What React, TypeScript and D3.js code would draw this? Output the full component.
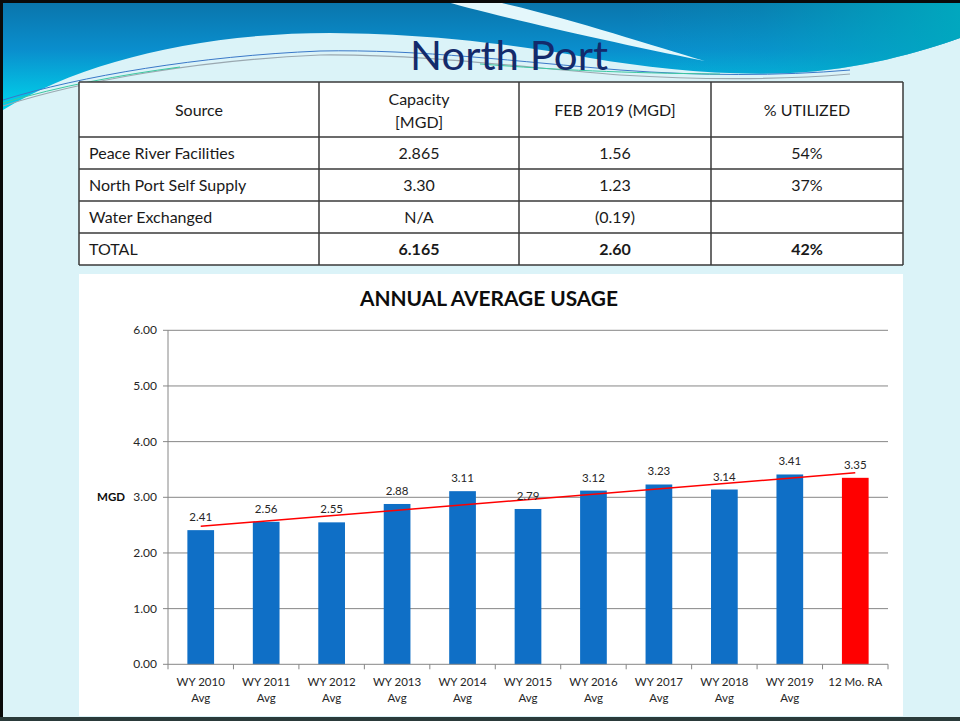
import React from "react";
import * as d3 from "d3";

const categories = [
  "WY 2010 Avg", "WY 2011 Avg", "WY 2012 Avg", "WY 2013 Avg", "WY 2014 Avg",
  "WY 2015 Avg", "WY 2016 Avg", "WY 2017 Avg", "WY 2018 Avg", "WY 2019 Avg", "12 Mo. RA",
];
const usage = [2.41, 2.56, 2.55, 2.88, 3.11, 2.79, 3.12, 3.23, 3.14, 3.41, 3.35];
const yTicks = [0, 1, 2, 3, 4, 5, 6];

const tableHeader = ["Source", "Capacity\n[MGD]", "FEB 2019 (MGD]", "% UTILIZED"];
const tableSources = ["Peace River Facilities", "North Port Self Supply", "Water Exchanged", "TOTAL"];
const tableCapacity = ["2.865", "3.30", "N/A", "6.165"];
const tableFeb = ["1.56", "1.23", "(0.19)", "2.60"];
const tableUtilized = ["54%", "37%", "", "42%"];

const FONT = "Lato, 'Open Sans', sans-serif";

export default function App() {
  const W = 960, H = 721;
  const x0 = 168, x1 = 888, yTop = 330.3, yBot = 664.3;
  const x = d3.scaleBand<string>().domain(categories).range([x0, x1]).paddingInner(0.592).paddingOuter(0.296);
  const y = d3.scaleLinear().domain([0, 6]).range([yBot, yTop]);
  const step = x.step();
  const bw = x.bandwidth();

  // linear trend line (least squares over the bar values)
  const idx = usage.map((_, i) => i);
  const mx = d3.mean(idx) as number;
  const my = d3.mean(usage) as number;
  const slope = d3.sum(idx, (i) => (i - mx) * (usage[i] - my)) / d3.sum(idx, (i) => (i - mx) ** 2);
  const trend = (i: number) => my + slope * (i - mx);
  const cx = (i: number) => (x(categories[i]) as number) + bw / 2;
  const trendLine = d3.line<number>().x((i) => cx(i)).y((i) => y(trend(i)))([0, categories.length - 1]) as string;

  const cols = [79, 319, 519, 711, 903];
  const rows = [82, 137, 169, 201, 233, 265];

  const boundaries = d3.range(categories.length + 1).map((i) => x0 + i * step);
  const swoosh = "M0,0 H960 V38 C 920,52 860,70 790,73 C 720,76 650,68 590,58 C 520,46 440,34 330,33 C 200,33 80,62 3,110 L0,110 Z";

  return (
    <svg width={W} height={H} style={{ position: "absolute", left: 0, top: 0, display: "block" }} fontFamily={FONT}>
      <defs>
        <linearGradient id="blueV" x1="0" y1="0" x2="0" y2="110" gradientUnits="userSpaceOnUse">
          <stop offset="0" stopColor="#0a74aa" />
          <stop offset="0.45" stopColor="#0a8ecd" />
          <stop offset="1" stopColor="#00d6ec" />
        </linearGradient>
        <linearGradient id="tealOv" x1="960" y1="0" x2="640" y2="70" gradientUnits="userSpaceOnUse">
          <stop offset="0" stopColor="#00aabf" stopOpacity="0.95" />
          <stop offset="0.6" stopColor="#00aabf" stopOpacity="0.2" />
          <stop offset="1" stopColor="#00aabf" stopOpacity="0" />
        </linearGradient>
      </defs>
      <rect x={0} y={0} width={W} height={H} fill="#dbf3f8" />
      <path d={swoosh} fill="url(#blueV)" />
      <path d={swoosh} fill="url(#tealOv)" />
      <path d="M440,0 C 480,12 600,40 705,61 C 650,45 560,15 488,0 Z" fill="#e4f7fb" />
      <path d="M3,100 C 80,76 200,56 320,51 C 420,49 520,62 620,70 C 700,76 780,76 850,70" fill="none" stroke="#3a78c8" strokeWidth={1} />
      <path d="M3,106 C 80,81 200,60 320,55 C 420,54 520,67 620,75 C 700,80 780,80 850,74" fill="none" stroke="#9aa8b0" strokeWidth={1.2} />
      <path d="M3,103 C 60,86 120,75 180,67" fill="none" stroke="#3cc8a0" strokeWidth={1} />
      <path d="M480,64 C 560,70 620,73 720,74" fill="none" stroke="#3cc8a0" strokeWidth={1} />

      <text x={509} y={70} textAnchor="middle" fontSize={41} fill="#132a6b" textLength={198} lengthAdjust="spacingAndGlyphs">North Port</text>

      {/* table */}
      <rect x={cols[0]} y={rows[0]} width={cols[4] - cols[0]} height={rows[5] - rows[0]} fill="#ffffff" />
      {rows.map((ry, i) => (
        <line key={"r" + i} x1={cols[0]} x2={cols[4]} y1={ry} y2={ry} stroke="#3a3a3a" strokeWidth={1.5} />
      ))}
      {cols.map((cxv, i) => (
        <line key={"c" + i} x1={cxv} x2={cxv} y1={rows[0]} y2={rows[5]} stroke="#3a3a3a" strokeWidth={1.5} />
      ))}
      {tableHeader.map((h, i) => {
        const mid = (cols[i] + cols[i + 1]) / 2;
        const parts = h.split("\n");
        if (parts.length === 2) {
          return (
            <g key={"h" + i}>
              <text x={mid} y={105} textAnchor="middle" fontSize={16} fill="#1a1a1a">{parts[0]}</text>
              <text x={mid} y={128} textAnchor="middle" fontSize={16} fill="#1a1a1a">{parts[1]}</text>
            </g>
          );
        }
        return <text key={"h" + i} x={mid} y={115.5} textAnchor="middle" fontSize={16} fill="#1a1a1a">{h}</text>;
      })}
      {tableSources.map((s, r) => {
        const base = (rows[r + 1] + rows[r + 2]) / 2 + 5.5;
        const bold = r === tableSources.length - 1;
        const vals = [tableCapacity[r], tableFeb[r], tableUtilized[r]];
        return (
          <g key={"row" + r}>
            <text x={89} y={base} fontSize={16} fill="#1a1a1a">{s}</text>
            {vals.map((v, c) => (
              <text key={c} x={(cols[c + 1] + cols[c + 2]) / 2} y={base} textAnchor="middle" fontSize={16} fill="#1a1a1a" fontWeight={bold ? 700 : 400}>{v}</text>
            ))}
          </g>
        );
      })}

      {/* chart panel */}
      <rect x={79} y={274} width={824} height={442} fill="#ffffff" />
      <text x={489} y={306} textAnchor="middle" fontSize={20} fontWeight={700} fill="#0d0d0d" textLength={258} lengthAdjust="spacingAndGlyphs">ANNUAL AVERAGE USAGE</text>

      {yTicks.map((t) => (
        <g key={"y" + t}>
          {t > 0 && <line x1={x0} x2={x1} y1={y(t)} y2={y(t)} stroke="#868686" strokeWidth={1} />}
          <line x1={x0 - 5} x2={x0} y1={y(t)} y2={y(t)} stroke="#868686" strokeWidth={1} />
          <text x={157} y={y(t) + 4} textAnchor="end" fontSize={12} fill="#262626">{t.toFixed(2)}</text>
        </g>
      ))}
      <text x={111} y={501} textAnchor="middle" fontSize={11.5} fontWeight={700} fill="#0d0d0d">MGD</text>

      {usage.map((v, i) => (
        <rect key={"b" + i} x={x(categories[i])} y={y(v)} width={bw} height={yBot - y(v)} fill={i === usage.length - 1 ? "#ff0000" : "#0f6fc6"} />
      ))}

      <line x1={x0} x2={x0} y1={yTop} y2={yBot} stroke="#868686" strokeWidth={1} />
      <line x1={x0} x2={x1} y1={yBot} y2={yBot} stroke="#868686" strokeWidth={1} />
      {boundaries.map((bx, i) => (
        <line key={"t" + i} x1={bx} x2={bx} y1={yBot} y2={yBot + 5} stroke="#868686" strokeWidth={1} />
      ))}

      <path d={trendLine} fill="none" stroke="#ff0000" strokeWidth={1.5} />

      {usage.map((v, i) => (
        <text key={"l" + i} x={cx(i)} y={y(v) - 9} textAnchor="middle" fontSize={11.5} fill="#262626">{v.toFixed(2)}</text>
      ))}

      {categories.map((c, i) => {
        const m = c.match(/^(.*) (Avg)$/);
        const lines = m ? [m[1], m[2]] : [c];
        return (
          <g key={"x" + i}>
            {lines.map((ln, k) => (
              <text key={k} x={cx(i)} y={686 + k * 16} textAnchor="middle" fontSize={11.5} fill="#262626">{ln}</text>
            ))}
          </g>
        );
      })}

      <rect x={0} y={0} width={W} height={3} fill="#0a0a0a" />
      <rect x={0} y={0} width={3} height={H} fill="#0a0a0a" />
      <rect x={0} y={717} width={W} height={4} fill="#2a3a3a" />
    </svg>
  );
}
